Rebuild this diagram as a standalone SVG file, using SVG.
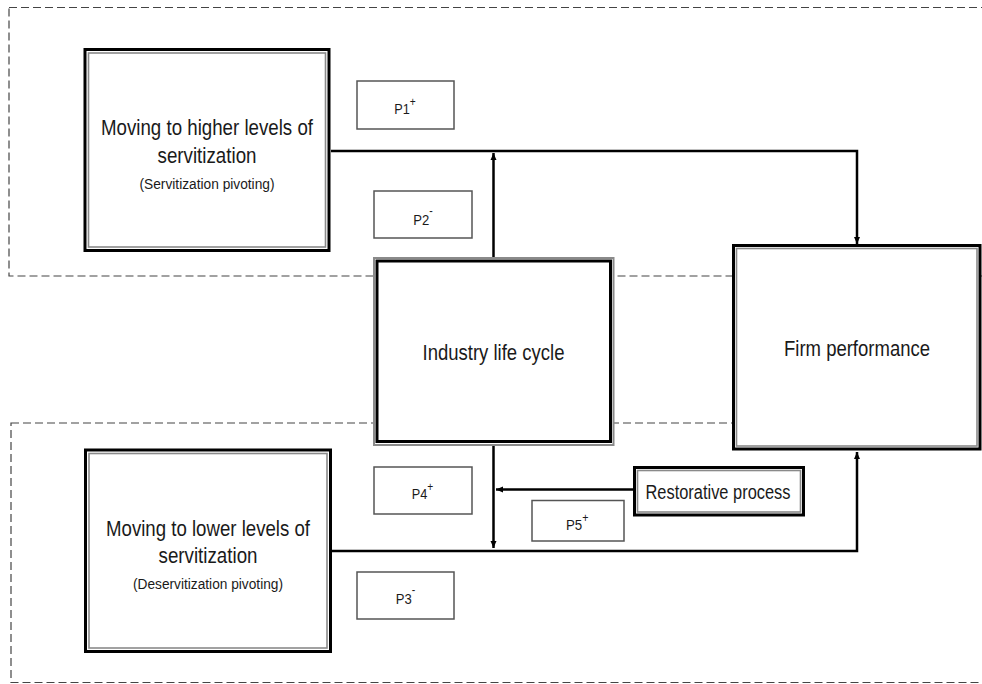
<svg xmlns="http://www.w3.org/2000/svg" width="982" height="684" viewBox="0 0 982 684">
<style>
.dash{fill:none;stroke:#444;stroke-width:1.2;stroke-dasharray:8 4}
.bk{fill:#fff;stroke:#000;stroke-width:3}
.gr{fill:none;stroke:#8a8a8a;stroke-width:1.6}
.pb{fill:#fff;stroke:#555;stroke-width:1.5}
.t{font-family:"Liberation Sans",Arial,sans-serif;fill:#1a1a1a;text-anchor:middle}
.p{font-family:"Liberation Sans",Arial,sans-serif;fill:#1a1a1a;font-size:15px}
.s{font-size:12px}
.c{fill:none;stroke:#000;stroke-width:2.5}
</style>
<defs>
<marker id="ah" markerUnits="userSpaceOnUse" markerWidth="8" markerHeight="8" viewBox="0 0 8 8" refX="7" refY="4" orient="auto">
<path d="M0,1 L7,4 L0,7 z" fill="#000"/>
</marker>
</defs>
<g id="regions">
<rect class="dash" x="9" y="7.5" width="990" height="268.5"/>
<rect class="dash" x="11" y="423" width="990" height="259.5"/>
</g>
<g id="connectors">
<path class="c" d="M331,151 H857 V244" marker-end="url(#ah)"/>
<path class="c" d="M493.5,260 V153" marker-end="url(#ah)"/>
<path class="c" d="M332,551 H857 V452" marker-end="url(#ah)"/>
<path class="c" d="M493.5,445 V548" marker-end="url(#ah)"/>
<path class="c" d="M633,489.5 H496" marker-end="url(#ah)"/>
</g>
<g id="higher">
<rect class="bk" x="85" y="49.5" width="244" height="201"/>
<rect class="gr" x="88.5" y="53" width="237" height="194"/>
<text class="t" x="207" y="134.5" font-size="22" textLength="212" lengthAdjust="spacingAndGlyphs">Moving to higher levels of</text>
<text class="t" x="207" y="162.5" font-size="22" textLength="99" lengthAdjust="spacingAndGlyphs">servitization</text>
<text class="t" x="207" y="189" font-size="15.5" textLength="135" lengthAdjust="spacingAndGlyphs">(Servitization  pivoting)</text>
</g>
<g id="lower">
<rect class="bk" x="85.5" y="450" width="245" height="201.5"/>
<rect class="gr" x="89" y="453.5" width="238" height="194.5"/>
<text class="t" x="208" y="535.5" font-size="22" textLength="204" lengthAdjust="spacingAndGlyphs">Moving to lower levels of</text>
<text class="t" x="208" y="563" font-size="22" textLength="99" lengthAdjust="spacingAndGlyphs">servitization</text>
<text class="t" x="208" y="589" font-size="15.5" textLength="150" lengthAdjust="spacingAndGlyphs">(Deservitization  pivoting)</text>
</g>
<g id="industry">
<rect x="374" y="258" width="239.5" height="187" fill="#fff" stroke="#8a8a8a" stroke-width="2"/>
<rect x="377" y="261" width="233.5" height="180.5" fill="none" stroke="#000" stroke-width="3"/>
<text class="t" x="493.5" y="360" font-size="22" textLength="142" lengthAdjust="spacingAndGlyphs">Industry life cycle</text>
</g>
<g id="firm">
<rect class="bk" x="733.5" y="245.5" width="246.5" height="203.5"/>
<rect class="gr" x="736.5" y="248.5" width="240.5" height="197.5"/>
<text class="t" x="857" y="356" font-size="22" textLength="146" lengthAdjust="spacingAndGlyphs">Firm performance</text>
</g>
<g id="restorative">
<rect class="bk" x="634.5" y="467.5" width="169" height="47.5"/>
<rect class="gr" x="637.5" y="470.5" width="163" height="41.5"/>
<text class="t" x="718" y="499" font-size="20" textLength="145" lengthAdjust="spacingAndGlyphs">Restorative process</text>
</g>
<g id="p1">
<rect class="pb" x="357" y="81" width="97" height="48"/>
<text class="p" x="394.3" y="114.3" textLength="21.5" lengthAdjust="spacingAndGlyphs">P1<tspan class="s" dy="-8">+</tspan></text>
</g>
<g id="p2">
<rect class="pb" x="374" y="191" width="98" height="47"/>
<text class="p" x="413.3" y="225" textLength="19.5" lengthAdjust="spacingAndGlyphs">P2<tspan class="s" dy="-10">-</tspan></text>
</g>
<g id="p4">
<rect class="pb" x="374" y="467" width="98" height="47"/>
<text class="p" x="411.7" y="499.3" textLength="21.5" lengthAdjust="spacingAndGlyphs">P4<tspan class="s" dy="-8">+</tspan></text>
</g>
<g id="p3">
<rect class="pb" x="357" y="572" width="97" height="47"/>
<text class="p" x="395.7" y="604.3" textLength="19.5" lengthAdjust="spacingAndGlyphs">P3<tspan class="s" dy="-10">-</tspan></text>
</g>
<g id="p5">
<rect class="pb" x="532" y="500.5" width="92" height="40.5"/>
<text class="p" x="566" y="530" textLength="22.5" lengthAdjust="spacingAndGlyphs">P5<tspan class="s" dy="-8">+</tspan></text>
</g>
</svg>
